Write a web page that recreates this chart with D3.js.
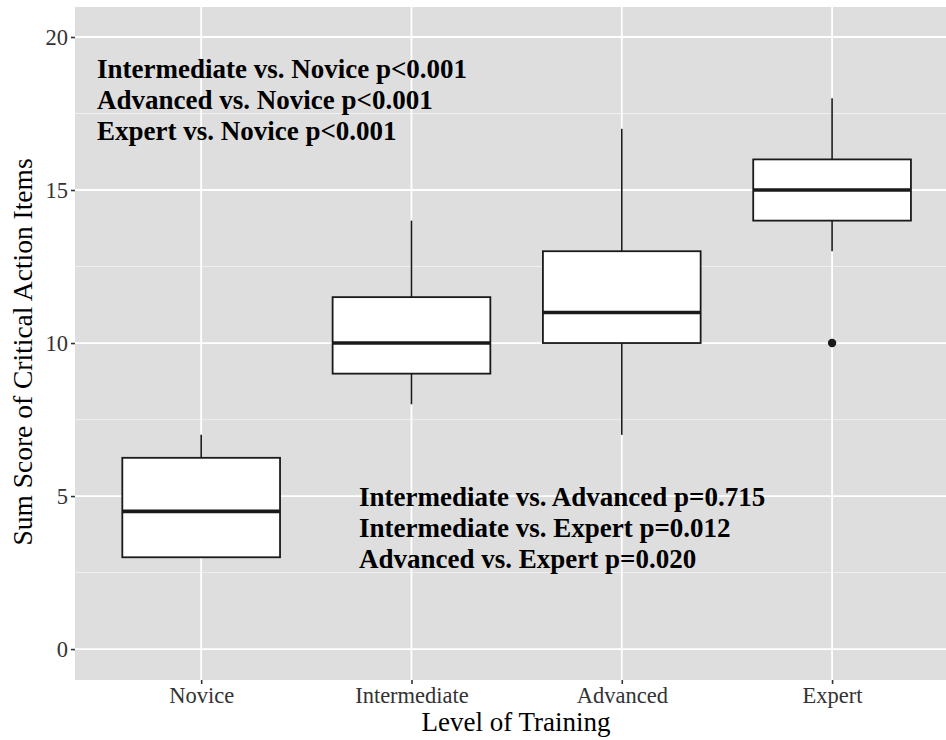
<!DOCTYPE html>
<html>
<head>
<meta charset="utf-8">
<script src="https://cdn.jsdelivr.net/npm/d3@7"></script>
<style>
  body { margin: 0; background: #fff; }
  svg { display: block; }
</style>
</head>
<body>
<svg id="chart" width="946" height="740"></svg>
<script>
// Training levels and the five-number summaries of each group
const categories = ["Novice", "Intermediate", "Advanced", "Expert"];
const whiskerLow  = [3, 8, 7, 13];
const quartile1   = [3, 9, 10, 14];
const medians     = [4.5, 10, 11, 15];
const quartile3   = [6.25, 11.5, 13, 16];
const whiskerHigh = [7, 14, 17, 18];
const outliers    = [{ group: "Expert", value: 10 }];

const yTicks = [0, 5, 10, 15, 20];
const yMinor = [2.5, 7.5, 12.5, 17.5];

const notesTop = [
  "Intermediate vs. Novice p<0.001",
  "Advanced vs. Novice p<0.001",
  "Expert vs. Novice p<0.001"
];
const notesBottom = [
  "Intermediate vs. Advanced p=0.715",
  "Intermediate vs. Expert p=0.012",
  "Advanced vs. Expert p=0.020"
];

const svg = d3.select("#chart");
const font = "'Liberation Serif', 'Times New Roman', serif";
const panel = { left: 75, top: 7, right: 946, bottom: 680 };

// Discrete x positions: 0.6 unit padding either side, like ggplot's default
const step = 210.3;
const x = d3.scalePoint()
  .domain(categories)
  .range([panel.left + 0.6 * step, panel.left + 0.6 * step + 3 * step]);
const y = d3.scaleLinear().domain([-1.01, 20.98]).range([panel.bottom, panel.top]);
const boxW = 0.75 * step;

svg.append("defs").append("clipPath").attr("id", "panel-clip")
  .append("rect")
  .attr("x", panel.left).attr("y", panel.top)
  .attr("width", panel.right - panel.left).attr("height", panel.bottom - panel.top);

svg.append("rect")
  .attr("x", panel.left).attr("y", panel.top)
  .attr("width", panel.right - panel.left).attr("height", panel.bottom - panel.top)
  .attr("fill", "#dedede");

const g = svg.append("g").attr("clip-path", "url(#panel-clip)");

// Grid
g.selectAll(".minor").data(yMinor).join("line")
  .attr("x1", panel.left).attr("x2", panel.right)
  .attr("y1", d => y(d)).attr("y2", d => y(d))
  .attr("stroke", "#f2f2f2").attr("stroke-width", 0.9);
g.selectAll(".majorY").data(yTicks).join("line")
  .attr("x1", panel.left).attr("x2", panel.right)
  .attr("y1", d => y(d)).attr("y2", d => y(d))
  .attr("stroke", "#ffffff").attr("stroke-width", 1.8);
g.selectAll(".majorX").data(categories).join("line")
  .attr("x1", d => x(d)).attr("x2", d => x(d))
  .attr("y1", panel.top).attr("y2", panel.bottom)
  .attr("stroke", "#ffffff").attr("stroke-width", 1.8);

// Boxplots
const boxes = categories.map((c, i) => ({
  c, lo: whiskerLow[i], q1: quartile1[i], med: medians[i], q3: quartile3[i], hi: whiskerHigh[i]
}));
const bg = g.selectAll(".box").data(boxes).join("g");
bg.append("line")
  .attr("x1", d => x(d.c)).attr("x2", d => x(d.c))
  .attr("y1", d => y(d.hi)).attr("y2", d => y(d.q3))
  .attr("stroke", "#1a1a1a").attr("stroke-width", 1.6);
bg.append("line")
  .attr("x1", d => x(d.c)).attr("x2", d => x(d.c))
  .attr("y1", d => y(d.q1)).attr("y2", d => y(d.lo))
  .attr("stroke", "#1a1a1a").attr("stroke-width", 1.6);
bg.append("rect")
  .attr("x", d => x(d.c) - boxW / 2).attr("width", boxW)
  .attr("y", d => y(d.q3)).attr("height", d => y(d.q1) - y(d.q3))
  .attr("fill", "#ffffff").attr("stroke", "#1a1a1a").attr("stroke-width", 1.8);
bg.append("line")
  .attr("x1", d => x(d.c) - boxW / 2).attr("x2", d => x(d.c) + boxW / 2)
  .attr("y1", d => y(d.med)).attr("y2", d => y(d.med))
  .attr("stroke", "#1a1a1a").attr("stroke-width", 3.6);

g.selectAll(".outlier").data(outliers).join("circle")
  .attr("cx", d => x(d.group)).attr("cy", d => y(d.value))
  .attr("r", 4.2).attr("fill", "#1a1a1a");

// Annotations
const noteSize = 27, lineGap = 31;
svg.append("g").selectAll("text").data(notesTop).join("text")
  .attr("x", 97).attr("y", (d, i) => 78 + i * lineGap)
  .attr("font-family", font).attr("font-weight", "bold").attr("font-size", noteSize)
  .attr("fill", "#000").text(d => d);
svg.append("g").selectAll("text").data(notesBottom).join("text")
  .attr("x", 359).attr("y", (d, i) => 506 + i * lineGap)
  .attr("font-family", font).attr("font-weight", "bold").attr("font-size", noteSize)
  .attr("fill", "#000").text(d => d);

// Axes
const tickSize = 22.5;
const yAxis = d3.axisLeft(y).tickValues(yTicks).tickSize(4).tickPadding(3);
const ya = svg.append("g").attr("transform", `translate(${panel.left},0)`).call(yAxis);
ya.select(".domain").remove();
ya.selectAll(".tick line").attr("stroke", "#333").attr("stroke-width", 1.6);
ya.selectAll(".tick text").attr("font-family", font).attr("font-size", tickSize).attr("fill", "#333");

const xAxis = d3.axisBottom(x).tickSize(4).tickPadding(3);
const xa = svg.append("g").attr("transform", `translate(0,${panel.bottom})`).call(xAxis);
xa.select(".domain").remove();
xa.selectAll(".tick line").attr("stroke", "#333").attr("stroke-width", 1.6);
xa.selectAll(".tick text").attr("font-family", font).attr("font-size", tickSize).attr("fill", "#333");

svg.append("text")
  .attr("x", 516).attr("y", 731)
  .attr("text-anchor", "middle")
  .attr("font-family", font).attr("font-size", 27).attr("fill", "#000")
  .text("Level of Training");

svg.append("text")
  .attr("transform", "translate(32,352) rotate(-90)")
  .attr("text-anchor", "middle")
  .attr("font-family", font).attr("font-size", 27.5).attr("fill", "#000")
  .text("Sum Score of Critical Action Items");
</script>
</body>
</html>
